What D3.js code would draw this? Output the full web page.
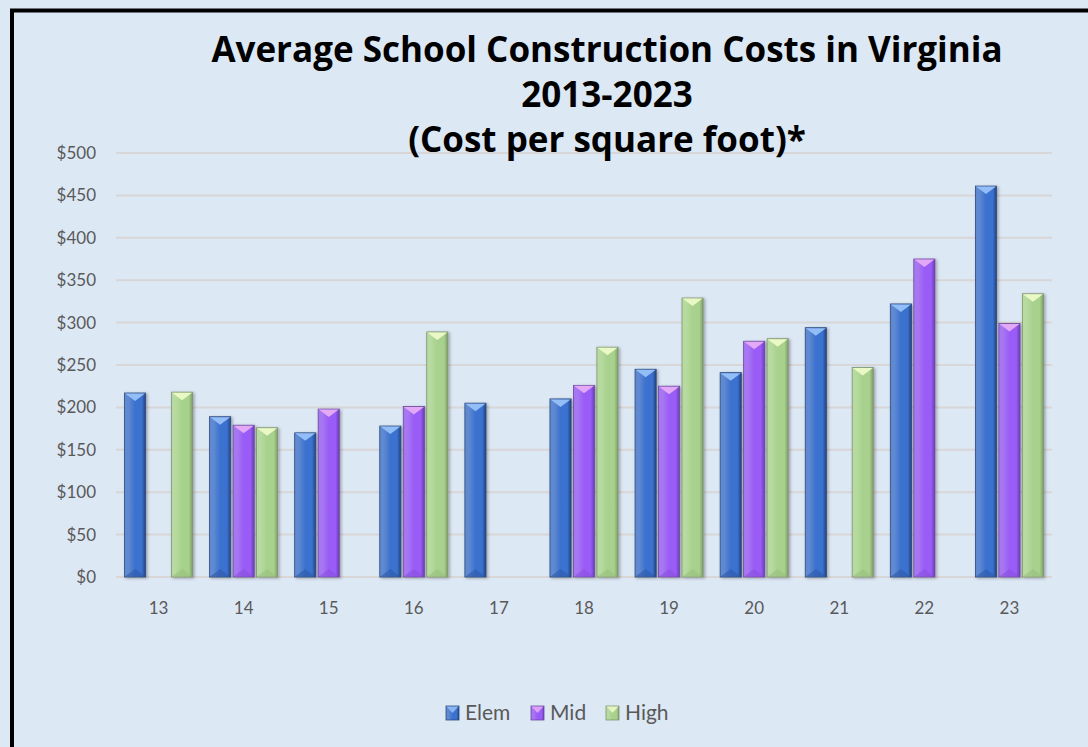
<!DOCTYPE html>
<html>
<head>
<meta charset="utf-8">
<script src="https://cdn.jsdelivr.net/npm/d3@7"></script>
<style>
  body { margin: 0; background: #dde8f5; }
  svg { display: block; }
  text { font-family: Lato, "Open Sans", sans-serif; }
</style>
</head>
<body>
<div id="chart"></div>
<script>
// data (cost per sq ft, $)
var years = ["13", "14", "15", "16", "17", "18", "19", "20", "21", "22", "23"];
var elemCost = [217, 189, 170, 178, 205, 210, 245, 241, 294, 322, 461];
var midCost = [null, 179, 198, 201, null, 226, 225, 278, null, 375, 299];
var highCost = [218, 176, null, 289, null, 271, 329, 281, 247, null, 334];
var seriesNames = ["Elem", "Mid", "High"];
var yTicks = [0, 50, 100, 150, 200, 250, 300, 350, 400, 450, 500];
var titleLines = ["Average School Construction Costs in Virginia", "2013-2023", "(Cost per square foot)*"];

var svgWidth = 1088;
var svgHeight = 747;
var margin = { top: 153, right: 36, bottom: 170, left: 116 };
var width = svgWidth - margin.left - margin.right;
var height = svgHeight - margin.top - margin.bottom;

// colours for each series: light edge, base, dark edge, bevel top, bevel bottom
var palette = {
  Elem: { light: "#5f89d0", base: "#3b71cf", dark: "#22437e", top: "#93bdf6", bottom: "#2d5aa8", stroke: "#2c4a7c" },
  Mid: { light: "#a777f2", base: "#9a5cf6", dark: "#6a3db4", top: "#e3a8f6", bottom: "#8a4ee0", stroke: "#6a4a9a" },
  High: { light: "#b6da9f", base: "#a8d18d", dark: "#7d9c68", top: "#eaf8c6", bottom: "#98c07e", stroke: "#7f9470" }
};

var rows = years.map(function(y, i) {
  return { year: y, Elem: elemCost[i], Mid: midCost[i], High: highCost[i] };
});

var svg = d3.select("#chart")
  .append("svg")
  .attr("width", svgWidth)
  .attr("height", svgHeight);

var defs = svg.append("defs");

seriesNames.forEach(function(s) {
  var c = palette[s];
  var g = defs.append("linearGradient")
    .attr("id", "grad-" + s)
    .attr("x1", "0%").attr("x2", "100%")
    .attr("y1", "0%").attr("y2", "0%");
  g.append("stop").attr("offset", "0%").attr("stop-color", c.light);
  g.append("stop").attr("offset", "20%").attr("stop-color", c.light);
  g.append("stop").attr("offset", "50%").attr("stop-color", c.base);
  g.append("stop").attr("offset", "82%").attr("stop-color", c.base);
  g.append("stop").attr("offset", "100%").attr("stop-color", c.dark);
});

var shadow = defs.append("filter").attr("id", "shadow")
  .attr("x", "-30%").attr("y", "-10%").attr("width", "160%").attr("height", "120%");
shadow.append("feDropShadow")
  .attr("dx", 1.5).attr("dy", 1)
  .attr("stdDeviation", 1.6)
  .attr("flood-color", "#000")
  .attr("flood-opacity", 0.32);

// background and black frame (only top and left edges are visible)
svg.append("rect")
  .attr("width", svgWidth).attr("height", svgHeight)
  .attr("fill", "#dde8f5");
svg.append("rect")
  .attr("x", 12).attr("y", 10.5)
  .attr("width", svgWidth + 20).attr("height", svgHeight + 20)
  .attr("fill", "none")
  .attr("stroke", "#000")
  .attr("stroke-width", 4);

var chartGroup = svg.append("g")
  .attr("transform", `translate(${margin.left}, ${margin.top})`);

var x0 = d3.scaleBand()
  .domain(years)
  .range([0, width])
  .padding(0);

var x1 = d3.scaleBand()
  .domain(seriesNames)
  .range([x0.bandwidth() * 0.1, x0.bandwidth() * 0.9])
  .paddingInner(0.1);

var y = d3.scaleLinear()
  .domain([0, 500])
  .range([height, 0]);

// gridlines
chartGroup.append("g")
  .selectAll("line")
  .data(yTicks)
  .enter()
  .append("line")
  .attr("x1", 0)
  .attr("x2", width)
  .attr("y1", d => y(d))
  .attr("y2", d => y(d))
  .attr("stroke", "#d8d6d6")
  .attr("stroke-width", 2);

// y axis labels
var leftAxis = d3.axisLeft(y)
  .tickValues(yTicks)
  .tickSize(0)
  .tickPadding(20)
  .tickFormat(d => "$" + d);
var yAxis = chartGroup.append("g").call(leftAxis);
yAxis.select(".domain").remove();
yAxis.selectAll("text")
  .attr("fill", "#595959")
  .style("font-size", "17px");

// x axis labels
var bottomAxis = d3.axisBottom(x0).tickSize(0).tickPadding(25);
var xAxis = chartGroup.append("g")
  .attr("transform", `translate(0, ${height})`)
  .call(bottomAxis);
xAxis.select(".domain").remove();
xAxis.selectAll("text")
  .attr("fill", "#595959")
  .style("font-size", "17px");

// draw a bevelled bar
function bevelBar(g, s, bx, by, bw, bh) {
  var c = palette[s];
  var cap = Math.min(8, bh / 2);
  var bar = g.append("g").attr("filter", "url(#shadow)");
  bar.append("rect")
    .attr("x", bx).attr("y", by)
    .attr("width", bw).attr("height", bh)
    .attr("fill", "url(#grad-" + s + ")")
    .attr("stroke", c.stroke)
    .attr("stroke-width", 0.8);
  bar.append("path")
    .attr("d", `M${bx + 0.5},${by + 0.5} L${bx + bw - 0.5},${by + 0.5} L${bx + bw / 2},${by + cap} Z`)
    .attr("fill", c.top);
  bar.append("path")
    .attr("d", `M${bx + 0.5},${by + bh - 0.5} L${bx + bw - 0.5},${by + bh - 0.5} L${bx + bw / 2},${by + bh - cap} Z`)
    .attr("fill", c.bottom)
    .attr("opacity", 0.6);
}

var barsGroup = chartGroup.append("g");
rows.forEach(function(d) {
  seriesNames.forEach(function(s) {
    if (d[s] == null) return;
    bevelBar(barsGroup, s,
      x0(d.year) + x1(s),
      y(d[s]),
      x1.bandwidth(),
      y(0) - y(d[s]));
  });
});

// title
titleLines.forEach(function(t, i) {
  svg.append("text")
    .attr("x", 607)
    .attr("y", 62 + i * 45)
    .attr("text-anchor", "middle")
    .attr("font-weight", "bold")
    .style("font-family", "'Open Sans', sans-serif")
    .style("font-size", "35px")
    .attr("fill", "#000")
    .text(t);
});

// legend
var legend = svg.append("g")
  .attr("transform", "translate(446, 713)");
var offsets = { Elem: 0, Mid: 85, High: 160 };
seriesNames.forEach(function(s) {
  var item = legend.append("g")
    .attr("transform", `translate(${offsets[s]}, 0)`);
  var c = palette[s];
  item.append("rect")
    .attr("x", 0).attr("y", -7)
    .attr("width", 13).attr("height", 14)
    .attr("fill", "url(#grad-" + s + ")")
    .attr("stroke", c.stroke)
    .attr("stroke-width", 0.8);
  item.append("path")
    .attr("d", "M0.5,-6.5 L12.5,-6.5 L6.5,0 Z")
    .attr("fill", c.top)
    .attr("opacity", 0.9);
  item.append("text")
    .attr("x", 19)
    .attr("y", 0)
    .attr("dy", "0.35em")
    .attr("fill", "#595959")
    .style("font-size", "21px")
    .text(s);
});
</script>
</body>
</html>
